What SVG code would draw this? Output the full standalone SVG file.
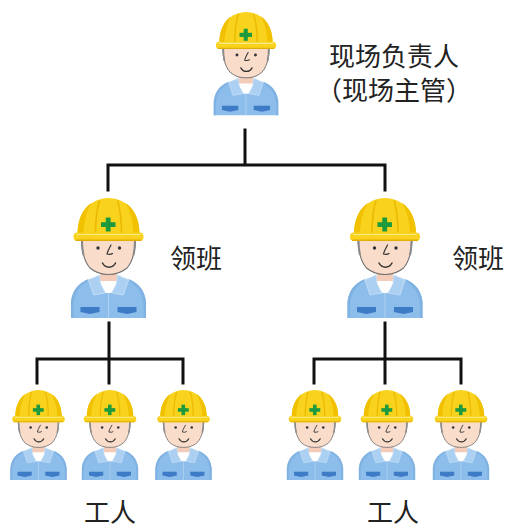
<svg xmlns="http://www.w3.org/2000/svg" xmlns:xlink="http://www.w3.org/1999/xlink" width="505" height="529" viewBox="0 0 505 529">
  <style>
    .label { font-family: "Noto Sans CJK SC", "Noto Sans CJK JP", sans-serif; font-size: 26px; fill: #222; }
    .link { fill: none; stroke: #111; stroke-width: 3; stroke-linecap: square; }
  </style>
  <defs>
    <!-- worker figure: x centred on 0, helmet top at y=0, shirt hem at y=120 -->
    <g id="worker">
      <!-- shirt -->
      <path d="M -9,79 C -22,80 -36,88 -37.5,104 L -37.5,120 L 37.5,120 L 37.5,104 C 36,88 22,80 9,79 Z" fill="#8DBDEA"/>
      <path d="M -37.5,104 C -36,90 -28,84 -20,81 L -22,84 C -30,89 -34,96 -35,106 L -35,120 L -37.5,120 Z" fill="#7FB2E3"/>
      <path d="M 37.5,104 C 36,90 28,84 20,81 L 22,84 C 30,89 34,96 35,106 L 35,120 L 37.5,120 Z" fill="#7FB2E3"/>
      <!-- neck and undershirt -->
      <rect x="-8.5" y="66" width="17" height="20" fill="#F3CDB9"/>
      <path d="M -8.5,83 L 8.5,83 L 5,95 L -5,95 Z" fill="#FFFFFF"/>
      <!-- collar -->
      <path d="M -9,77 L -20,82 L -15,97 L -3,95 L -8,86 Z" fill="#ABD0F2" stroke="#C8E0F7" stroke-width="0.8"/>
      <path d="M 9,77 L 20,82 L 15,97 L 3,95 L 8,86 Z" fill="#ABD0F2" stroke="#C8E0F7" stroke-width="0.8"/>
      <line x1="0" y1="95" x2="0" y2="120" stroke="#B5D5F3" stroke-width="0.9"/>
      <!-- pockets -->
      <path d="M -28,109 L -9,109 L -9,114 L -18.5,116 L -28,114 Z" fill="#3D7BC7"/>
      <path d="M 9,109 L 28,109 L 28,114 L 18.5,116 L 9,114 Z" fill="#3D7BC7"/>
      <!-- face -->
      <path d="M -27,34 C -27.5,50 -25.5,62 -18.5,70 C -12,75.5 -6,76.5 0,76.5 C 6,76.5 12,75.5 18.5,70 C 25.5,62 27.5,50 27,34 Z" fill="#FADCCB" stroke="#707070" stroke-width="1.1"/>
      <path d="M -26.5,42 C -26.5,48 -26,53 -25,57" fill="none" stroke="#8A8A8A" stroke-width="2"/>
      <path d="M 26.5,42 C 26.5,48 26,53 25,57" fill="none" stroke="#8A8A8A" stroke-width="2"/>
      <circle cx="-10.5" cy="50" r="1.7" fill="#333"/>
      <circle cx="11" cy="50" r="1.7" fill="#333"/>
      <path d="M 2.5,47 C 1,50 -1,53 -1.5,56 C 0.5,56.5 2.5,56.5 4,55.5" fill="none" stroke="#333" stroke-width="1.2" stroke-linecap="round"/>
      <path d="M -6,65 C -3,70.5 4,70.5 7,65" fill="none" stroke="#333" stroke-width="1.5" stroke-linecap="round"/>
      <!-- helmet -->
      <path d="M -31,37 C -31.5,13 -17,0.5 0,0 C 17,0.5 31.5,13 31,37 Z" fill="#F8D21C"/>
      <path d="M -31,37 C -31,20 -25,10 -17,5 C -22,13 -25,24 -25,37 Z" fill="#F1C100"/>
      <path d="M 31,37 C 31,20 25,10 17,5 C 22,13 25,24 25,37 Z" fill="#F1C100"/>
      <path d="M -9,2.5 C -12,12 -13,24 -13,36 M 9,2.5 C 12,12 13,24 13,36" fill="none" stroke="#EBB900" stroke-width="1.6"/>
      <rect x="-35" y="34.5" width="70" height="8.5" rx="4" fill="#F8D21C"/>
      <path d="M -32,36.5 L 32,36.5" stroke="#FCEB8C" stroke-width="1.2"/>
      <path d="M -33,42.2 L 33,42.2" stroke="#E4AE00" stroke-width="1.4"/>
      <rect x="-7.5" y="24.2" width="14.5" height="4.8" fill="#1E9A3E"/>
      <rect x="-2.7" y="19.5" width="4.8" height="14" fill="#1E9A3E"/>
    </g>
  </defs>

  <!-- connectors -->
  <g id="connectors">
    <path class="link" d="M 245,130 V 165 M 108,190 V 165 H 385 V 190"/>
    <path class="link" d="M 109,323 V 383 M 37,383 V 359 H 183 V 383"/>
    <path class="link" d="M 385,323 V 383 M 314,383 V 359 H 461 V 383"/>
  </g>

  <!-- site manager -->
  <g id="manager">
    <use xlink:href="#worker" href="#worker" transform="translate(246,12) scale(0.86)"/>
    <text class="label" x="394" y="66" text-anchor="middle">现场负责人</text>
    <text class="label" x="394" y="100" text-anchor="middle">（现场主管）</text>
  </g>

  <!-- foremen -->
  <g id="foreman-left">
    <use xlink:href="#worker" href="#worker" transform="translate(108.5,198)"/>
    <text class="label" x="170" y="268">领班</text>
  </g>
  <g id="foreman-right">
    <use xlink:href="#worker" href="#worker" transform="translate(385,198)"/>
    <text class="label" x="452" y="268">领班</text>
  </g>

  <!-- workers, left crew -->
  <g id="worker-l1"><use xlink:href="#worker" href="#worker" transform="translate(38.5,390) scale(0.75)"/></g>
  <g id="worker-l2"><use xlink:href="#worker" href="#worker" transform="translate(110,390) scale(0.75)"/></g>
  <g id="worker-l3"><use xlink:href="#worker" href="#worker" transform="translate(183.5,390) scale(0.75)"/></g>
  <text class="label" x="110" y="522" text-anchor="middle">工人</text>

  <!-- workers, right crew -->
  <g id="worker-r1"><use xlink:href="#worker" href="#worker" transform="translate(315,390) scale(0.75)"/></g>
  <g id="worker-r2"><use xlink:href="#worker" href="#worker" transform="translate(387,390) scale(0.75)"/></g>
  <g id="worker-r3"><use xlink:href="#worker" href="#worker" transform="translate(461,390) scale(0.75)"/></g>
  <text class="label" x="393" y="522" text-anchor="middle">工人</text>
</svg>
